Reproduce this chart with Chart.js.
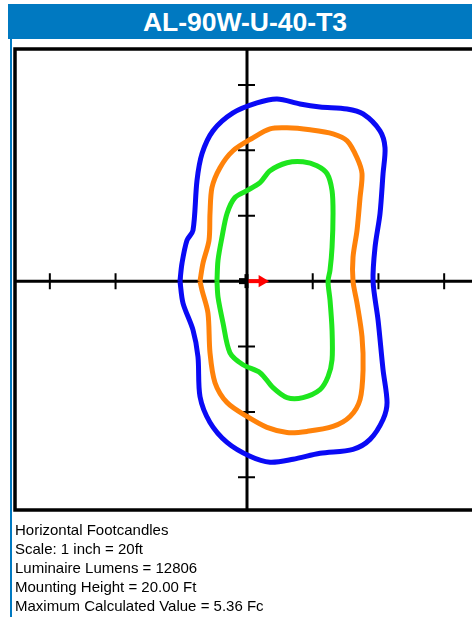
<!DOCTYPE html>
<html>
<head>
<meta charset="utf-8">
<script src="https://cdn.jsdelivr.net/npm/chart.js@4"></script>
<style>
  html, body { margin: 0; padding: 0; background: #fff; overflow: hidden; width: 472px; height: 617px; }
  #titleBar { position: absolute; left: 8px; top: 4px; width: 464px; height: 35px; background: #0079c1;
    color: #fff; font: bold 26.5px "Liberation Sans", Arial, sans-serif; line-height: 36px; text-align: center; box-sizing: border-box; padding-left: 10px; }
  #leftRule { position: absolute; left: 10px; top: 39px; width: 2px; height: 578px; background: #0079c1; }
  #chartBox { position: absolute; left: 0; top: 0; width: 494px; height: 525px; }
  #notes { position: absolute; left: 15px; top: 520px; font: 15px "Liberation Sans", Arial, sans-serif; line-height: 19px; color: #000; }
</style>
</head>
<body>
<div id="chartBox"><canvas id="plot"></canvas></div>
<div id="titleBar">AL-90W-U-40-T3</div>
<div id="leftRule"></div>
<div id="notes">
  <div>Horizontal Footcandles</div>
  <div>Scale: 1 inch = 20ft</div>
  <div>Luminaire Lumens = 12806</div>
  <div>Mounting Height = 20.00 Ft</div>
  <div>Maximum Calculated Value = 5.36 Fc</div>
</div>
<script>
// ===== DATOS (pies) =====
const tickValues = [-30, -20, -10, 10, 20, 30];

const contourBlue = [
  [-10.2, 0], [-9.89, 2.74], [-9.13, 6.24], [-8.22, 7.76], [-7.61, 15.37], [-6.85, 19.48],
  [-5.18, 22.98], [-2.13, 25.72], [1.52, 27.25], [4.57, 27.85], [8.07, 27.09], [11.11, 26.64],
  [15.22, 26.33], [17.66, 25.57], [20.24, 22.98], [21.0, 20.4], [20.7, 16.44], [20.24, 10.35],
  [19.48, 5.18], [19.18, 0], [19.94, -5.94], [20.7, -13.55], [21.31, -18.57], [20.7, -21.16],
  [18.72, -24.2], [16.13, -25.72], [11.11, -26.33], [7.0, -27.25], [3.5, -27.7], [0.46, -26.79],
  [-3.04, -24.66], [-5.63, -21.61], [-7.15, -17.66], [-7.46, -11.57], [-8.22, -7.46], [-9.74, -3.35]
];

const contourOrange = [
  [-7.15, 0], [-6.7, 2.74], [-5.78, 6.24], [-5.63, 10.35], [-5.33, 14.31], [-4.11, 17.35],
  [-2.13, 19.94], [0.91, 21.92], [3.5, 23.29], [6.09, 23.44], [9.59, 23.14], [13.09, 22.53],
  [15.22, 21.46], [16.74, 18.87], [17.5, 16.44], [17.2, 12.79], [16.74, 7.76], [16.13, 3.65],
  [16.13, 0], [16.74, -3.35], [17.5, -8.52], [17.66, -13.55], [17.2, -18.11], [15.68, -20.7],
  [13.09, -22.22], [9.13, -22.98], [6.09, -23.14], [3.04, -22.37], [0, -20.7], [-3.04, -18.57],
  [-4.87, -15.53], [-5.63, -10.96], [-5.94, -4.87], [-6.85, -1.37]
];

const contourGreen = [
  [-4.57, 0], [-4.41, 3.2], [-3.81, 6.7], [-3.04, 10.35], [-1.83, 12.79], [0, 13.85],
  [1.98, 15.07], [3.5, 16.89], [6.09, 18.11], [8.52, 18.26], [10.65, 17.66], [12.18, 16.44],
  [12.94, 13.85], [13.09, 10.35], [12.94, 5.18], [12.63, 1.67], [12.33, 0], [12.63, -2.89],
  [12.94, -7.46], [12.94, -12.03], [12.33, -14.61], [11.11, -16.59], [8.52, -17.81], [6.09, -17.81],
  [3.96, -16.29], [1.98, -14.0], [-0.61, -12.79], [-2.59, -10.96], [-3.65, -6.39], [-4.41, -2.44]
];

const arrowPath = [[0, 0], [2.3, 0]];

// contorno cerrado -> puntos {x, y}
function closed(pts) {
  const out = pts.map(p => ({ x: p[0], y: p[1] }));
  out.push({ x: pts[0][0], y: pts[0][1] });
  return out;
}

// ===== EJES EN CRUZ + MARCO =====
const crossAxes = {
  id: 'crossAxes',
  beforeDatasetsDraw(chart) {
    const { ctx, chartArea: a, scales: { x, y } } = chart;
    const x0 = x.getPixelForValue(0);
    const y0 = y.getPixelForValue(0);
    ctx.save();
    ctx.strokeStyle = '#000';
    ctx.lineWidth = 3;
    ctx.beginPath();
    ctx.moveTo(a.left, y0); ctx.lineTo(a.right, y0);
    ctx.moveTo(x0, a.top); ctx.lineTo(x0, a.bottom);
    ctx.stroke();

    ctx.lineWidth = 2;
    ctx.beginPath();
    tickValues.forEach(v => {
      const px = x.getPixelForValue(v);
      const py = y.getPixelForValue(v);
      ctx.moveTo(px, y0 - 8); ctx.lineTo(px, y0 + 8);
      ctx.moveTo(x0 - 9, py); ctx.lineTo(x0 + 8, py);
    });
    ctx.stroke();

    ctx.lineWidth = 3.5;
    ctx.strokeRect(a.left, a.top, a.right - a.left, a.bottom - a.top);
    ctx.restore();
  },
  afterDatasetsDraw(chart) {
    const { ctx, scales: { x, y } } = chart;
    const x0 = x.getPixelForValue(0);
    const y0 = y.getPixelForValue(0);
    ctx.save();
    ctx.fillStyle = '#000';
    ctx.fillRect(x0 - 8, y0 - 3, 6, 6);
    ctx.fillRect(x0 - 2.5, y0 - 7, 4, 14);
    ctx.restore();
  }
};

const lineDs = (pts, color) => ({
  data: closed(pts),
  showLine: true,
  borderColor: color,
  borderWidth: 5,
  pointRadius: 0,
  tension: 0.3,
  fill: false
});

new Chart(document.getElementById('plot'), {
  type: 'scatter',
  data: {
    datasets: [
      lineDs(contourBlue, '#0a0af5'),
      lineDs(contourOrange, '#ff820a'),
      lineDs(contourGreen, '#1ee61e'),
      {
        data: arrowPath.map(p => ({ x: p[0], y: p[1] })),
        showLine: true,
        borderColor: '#ff0000',
        backgroundColor: '#ff0000',
        borderWidth: 4,
        pointRadius: [0, 7],
        pointStyle: 'triangle',
        rotation: 90,
        pointBorderWidth: 0
      }
    ]
  },
  options: {
    responsive: true,
    maintainAspectRatio: false,
    animation: false,
    layout: { padding: { left: 15, top: 49, right: 15, bottom: 15 } },
    scales: {
      x: { type: 'linear', display: false, min: -35.3, max: 35.3 },
      y: { type: 'linear', display: false, min: -35.0, max: 35.5 }
    },
    plugins: { legend: { display: false }, tooltip: { enabled: false } }
  },
  plugins: [crossAxes]
});
</script>
</body>
</html>
